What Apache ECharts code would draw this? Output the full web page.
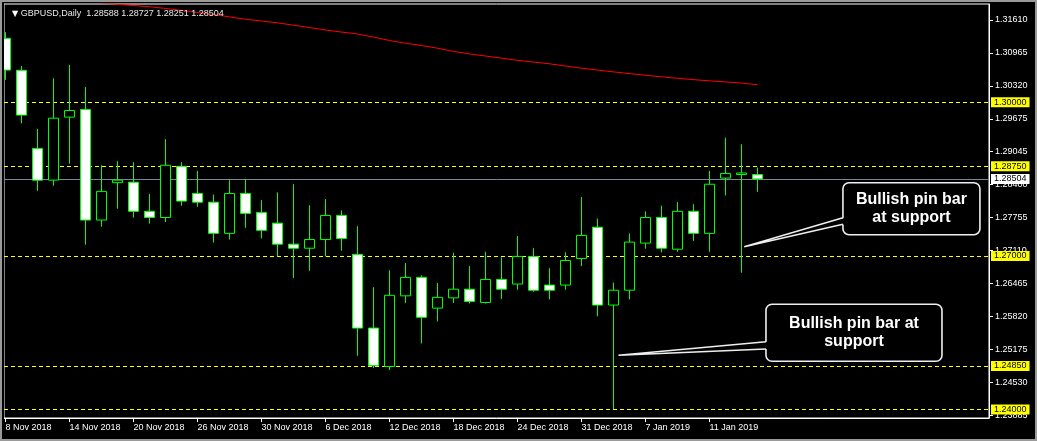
<!DOCTYPE html>
<html><head><meta charset="utf-8">
<script src="https://cdn.jsdelivr.net/npm/echarts@6/dist/echarts.min.js"></script>
<style>html,body{margin:0;padding:0;background:#000;}#c{width:1037px;height:441px;}</style>
</head><body><div id="c"></div>
<script>
const dates = ['8 Nov 2018','9 Nov 2018','12 Nov 2018','13 Nov 2018','14 Nov 2018','15 Nov 2018','16 Nov 2018','19 Nov 2018','20 Nov 2018','21 Nov 2018','22 Nov 2018','23 Nov 2018','26 Nov 2018','27 Nov 2018','28 Nov 2018','29 Nov 2018','30 Nov 2018','3 Dec 2018','4 Dec 2018','5 Dec 2018','6 Dec 2018','7 Dec 2018','10 Dec 2018','11 Dec 2018','12 Dec 2018','13 Dec 2018','14 Dec 2018','17 Dec 2018','18 Dec 2018','19 Dec 2018','20 Dec 2018','21 Dec 2018','24 Dec 2018','26 Dec 2018','27 Dec 2018','28 Dec 2018','31 Dec 2018','2 Jan 2019','3 Jan 2019','4 Jan 2019','7 Jan 2019','8 Jan 2019','9 Jan 2019','10 Jan 2019','11 Jan 2019','14 Jan 2019','15 Jan 2019','16 Jan 2019'];
const open  = [1.3125,1.30625,1.2910,1.2848,1.2971,1.2986,1.2770,1.2843,1.2844,1.2787,1.2775,1.2875,1.2822,1.2805,1.2744,1.2822,1.2785,1.2764,1.2723,1.2715,1.2732,1.2779,1.2703,1.2559,1.2484,1.2622,1.2658,1.2598,1.2618,1.2635,1.2609,1.2654,1.2645,1.2699,1.2643,1.2643,1.2695,1.2756,1.2604,1.2633,1.2725,1.2775,1.2713,1.2787,1.2744,1.2852,1.2859,1.28588];
const high  = [1.3137,1.3071,1.2948,1.3047,1.3073,1.3030,1.2877,1.2885,1.2883,1.2821,1.2928,1.2883,1.2866,1.2820,1.2848,1.2850,1.2809,1.2824,1.2840,1.2799,1.2811,1.2789,1.2758,1.2639,1.2672,1.2686,1.2662,1.2647,1.2706,1.2680,1.2708,1.2697,1.2739,1.2715,1.2676,1.2707,1.2815,1.2773,1.2648,1.2744,1.2787,1.2798,1.2805,1.2801,1.2866,1.2931,1.2918,1.28727];
const low   = [1.3044,1.2959,1.2827,1.2837,1.2880,1.2722,1.2757,1.2792,1.2775,1.2763,1.2766,1.2798,1.2796,1.2726,1.2732,1.2755,1.2734,1.2699,1.2657,1.2671,1.2699,1.2710,1.2505,1.2481,1.2477,1.2608,1.2529,1.2572,1.2608,1.2607,1.2607,1.2616,1.2634,1.2630,1.2615,1.2634,1.2680,1.2582,1.2401,1.2615,1.2714,1.2707,1.2708,1.2729,1.2708,1.2818,1.2667,1.28251];
const close = [1.3063,1.2975,1.2848,1.2969,1.2984,1.2770,1.2826,1.2848,1.2787,1.2775,1.2877,1.2807,1.2805,1.2744,1.2822,1.2783,1.2750,1.2723,1.2715,1.2732,1.2779,1.2734,1.2559,1.2486,1.2623,1.2658,1.2580,1.2619,1.2635,1.2611,1.2654,1.2635,1.2699,1.2633,1.2633,1.2691,1.2740,1.2604,1.2633,1.2727,1.2775,1.2715,1.2787,1.2744,1.2840,1.2861,1.2862,1.28504];
const maValues = [null,null,null,null,null,null,1.3194,1.31914,1.3189,1.31867,1.31833,1.31794,1.31754,1.31715,1.31668,1.31622,1.31588,1.31552,1.31506,1.3146,1.31412,1.31372,1.31335,1.31273,1.31207,1.31154,1.31109,1.31057,1.30994,1.30945,1.30904,1.30862,1.3082,1.30786,1.30752,1.30709,1.30666,1.3063,1.30594,1.30561,1.30527,1.30498,1.30468,1.30443,1.30419,1.30398,1.30375,1.30344];
const xTickIndex = [0,4,8,12,16,20,24,28,32,36,40,44];
const yTickLabels = [1.31610,1.30965,1.30320,1.29675,1.29045,1.28400,1.27755,1.27110,1.26465,1.25820,1.25175,1.24530,1.23885];
const levelLines = [1.30000,1.28750,1.27000,1.24850,1.24000];
const lastPrice = 1.28504;
const titleText = 'GBPUSD,Daily';
const ohlcText = '1.28588 1.28727 1.28251 1.28504';
const noteTexts = [['Bullish pin bar','at support'],['Bullish pin bar at','support']];

const FONT = '"Liberation Sans", Arial, sans-serif';
const chart = echarts.init(document.getElementById('c'), null, {renderer:'canvas'});
const candleData = dates.map((d,i)=>[i, open[i], close[i], low[i], high[i]]);
const maData = maValues.map((v,i)=>[i, v]);

const option = {
  backgroundColor:'#000',
  animation:false,
  title:{
    text:'{tri|▼} ' + titleText + '  ' + ohlcText,
    left:7, top:4,
    textStyle:{color:'#e8e8e8', fontSize:9, fontWeight:'normal', fontFamily:FONT,
      rich:{tri:{fontFamily:'"DejaVu Sans"', fontSize:8, color:'#fff'}}}
  },
  grid:{left:4, top:4, right:48, bottom:23, show:true, borderColor:'#fff', borderWidth:1, backgroundColor:'#000', containLabel:false, outerBoundsMode:'none'},
  xAxis:{
    type:'value', min:-0.09375, max:61.46875, position:'bottom',
    axisLine:{show:true, onZero:false, lineStyle:{color:'#fff', width:1}},
    axisTick:{show:true, customValues:xTickIndex, length:4, lineStyle:{color:'#fff'}},
    axisLabel:{customValues:xTickIndex, formatter:v=>dates[Math.round(v)], align:'left', color:'#fff', fontSize:9, fontFamily:FONT, margin:5},
    splitLine:{show:false}
  },
  yAxis:{
    type:'value', min:1.23834, max:1.3192, position:'right',
    axisLine:{show:true, onZero:false, lineStyle:{color:'#fff', width:1}},
    axisTick:{show:true, customValues:yTickLabels, length:4, lineStyle:{color:'#fff'}},
    axisLabel:{customValues:yTickLabels, formatter:v=>v.toFixed(5), color:'#fff', fontSize:9, fontFamily:FONT, margin:6},
    splitLine:{show:false}
  },
  series:[
    {
      type:'line', data:[], z:1, silent:true,
      markLine:{
        silent:true, symbol:['none','none'], z:1, precision:5, animation:false,
        data: levelLines.map(v=>({yAxis:v, lineStyle:{color:'#ffff00', type:[4,3], width:1},
            label:{show:true, position:'end', distance:2, formatter:()=>v.toFixed(5), backgroundColor:'#ffff00', color:'#000', fontSize:9, fontFamily:FONT, padding:[1,3,0,3]}}))
          .concat([{yAxis:lastPrice, lineStyle:{color:'#778899', type:'solid', width:1},
            label:{show:true, position:'end', distance:2, formatter:()=>lastPrice.toFixed(5), backgroundColor:'#fff', color:'#000', fontSize:9, fontFamily:FONT, padding:[1,3,0,3]}}])
      }
    },
    {
      type:'line', data:maData, z:2, showSymbol:false, symbol:'none', clip:true,
      lineStyle:{color:'#ff0000', width:1}, silent:true
    },
    {
      type:'candlestick', data:candleData, z:3, barWidth:10, clip:true,
      encode:{x:0, y:[1,2,3,4]},
      itemStyle:{color:'#000', color0:'#fff', borderColor:'#00ff00', borderColor0:'#00ff00', borderWidth:1}
    }
  ],
  graphic:[]
};
chart.setOption(option);

// annotations anchored in data space
const notes = [
  {text:noteTexts[0], tip:[46.17,1.2718], box:[52.34,1.2843], w:137, h:52, b1:35, b2:41.6},
  {text:noteTexts[1], tip:[38.31,1.2506], box:[47.53,1.26055], w:176, h:57, b1:37.4, b2:44.7}
];
const g = [];
notes.forEach(n=>{
  const tp = chart.convertToPixel({xAxisIndex:0,yAxisIndex:0}, n.tip);
  const bp = chart.convertToPixel({xAxisIndex:0,yAxisIndex:0}, n.box);
  g.push({type:'rect', shape:{x:bp[0], y:bp[1], width:n.w, height:n.h, r:6}, style:{fill:'#000', stroke:'#eeeeee', lineWidth:1.6}, z:10});
  g.push({type:'polygon', shape:{points:[[bp[0]+2, bp[1]+n.b1],[tp[0],tp[1]],[bp[0]+2, bp[1]+n.b2]]}, style:{fill:'#000'}, z:11});
  g.push({type:'polyline', shape:{points:[[bp[0], bp[1]+n.b1],[tp[0],tp[1]],[bp[0], bp[1]+n.b2]]}, style:{stroke:'#eeeeee', lineWidth:1.6, fill:null}, z:12});
  g.push({type:'text', x:bp[0]+n.w/2, y:bp[1]+n.h/2, style:{text:n.text.join('\n'), fill:'#fff', font:'bold 16px "Liberation Sans", Arial, sans-serif', align:'center', verticalAlign:'middle', lineHeight:18.5}, z:13});
});
// left margin outside the plot (hides the part of the first candle beyond the frame)
g.push({type:'rect', shape:{x:0, y:0, width:4, height:441}, style:{fill:'#000'}, z:19, silent:true});
g.push({type:'rect', shape:{x:1, y:1, width:1035, height:439}, style:{fill:null, stroke:'#9a9a9a', lineWidth:2}, z:20, silent:true});
chart.setOption({graphic:g});
</script>
</body></html>
